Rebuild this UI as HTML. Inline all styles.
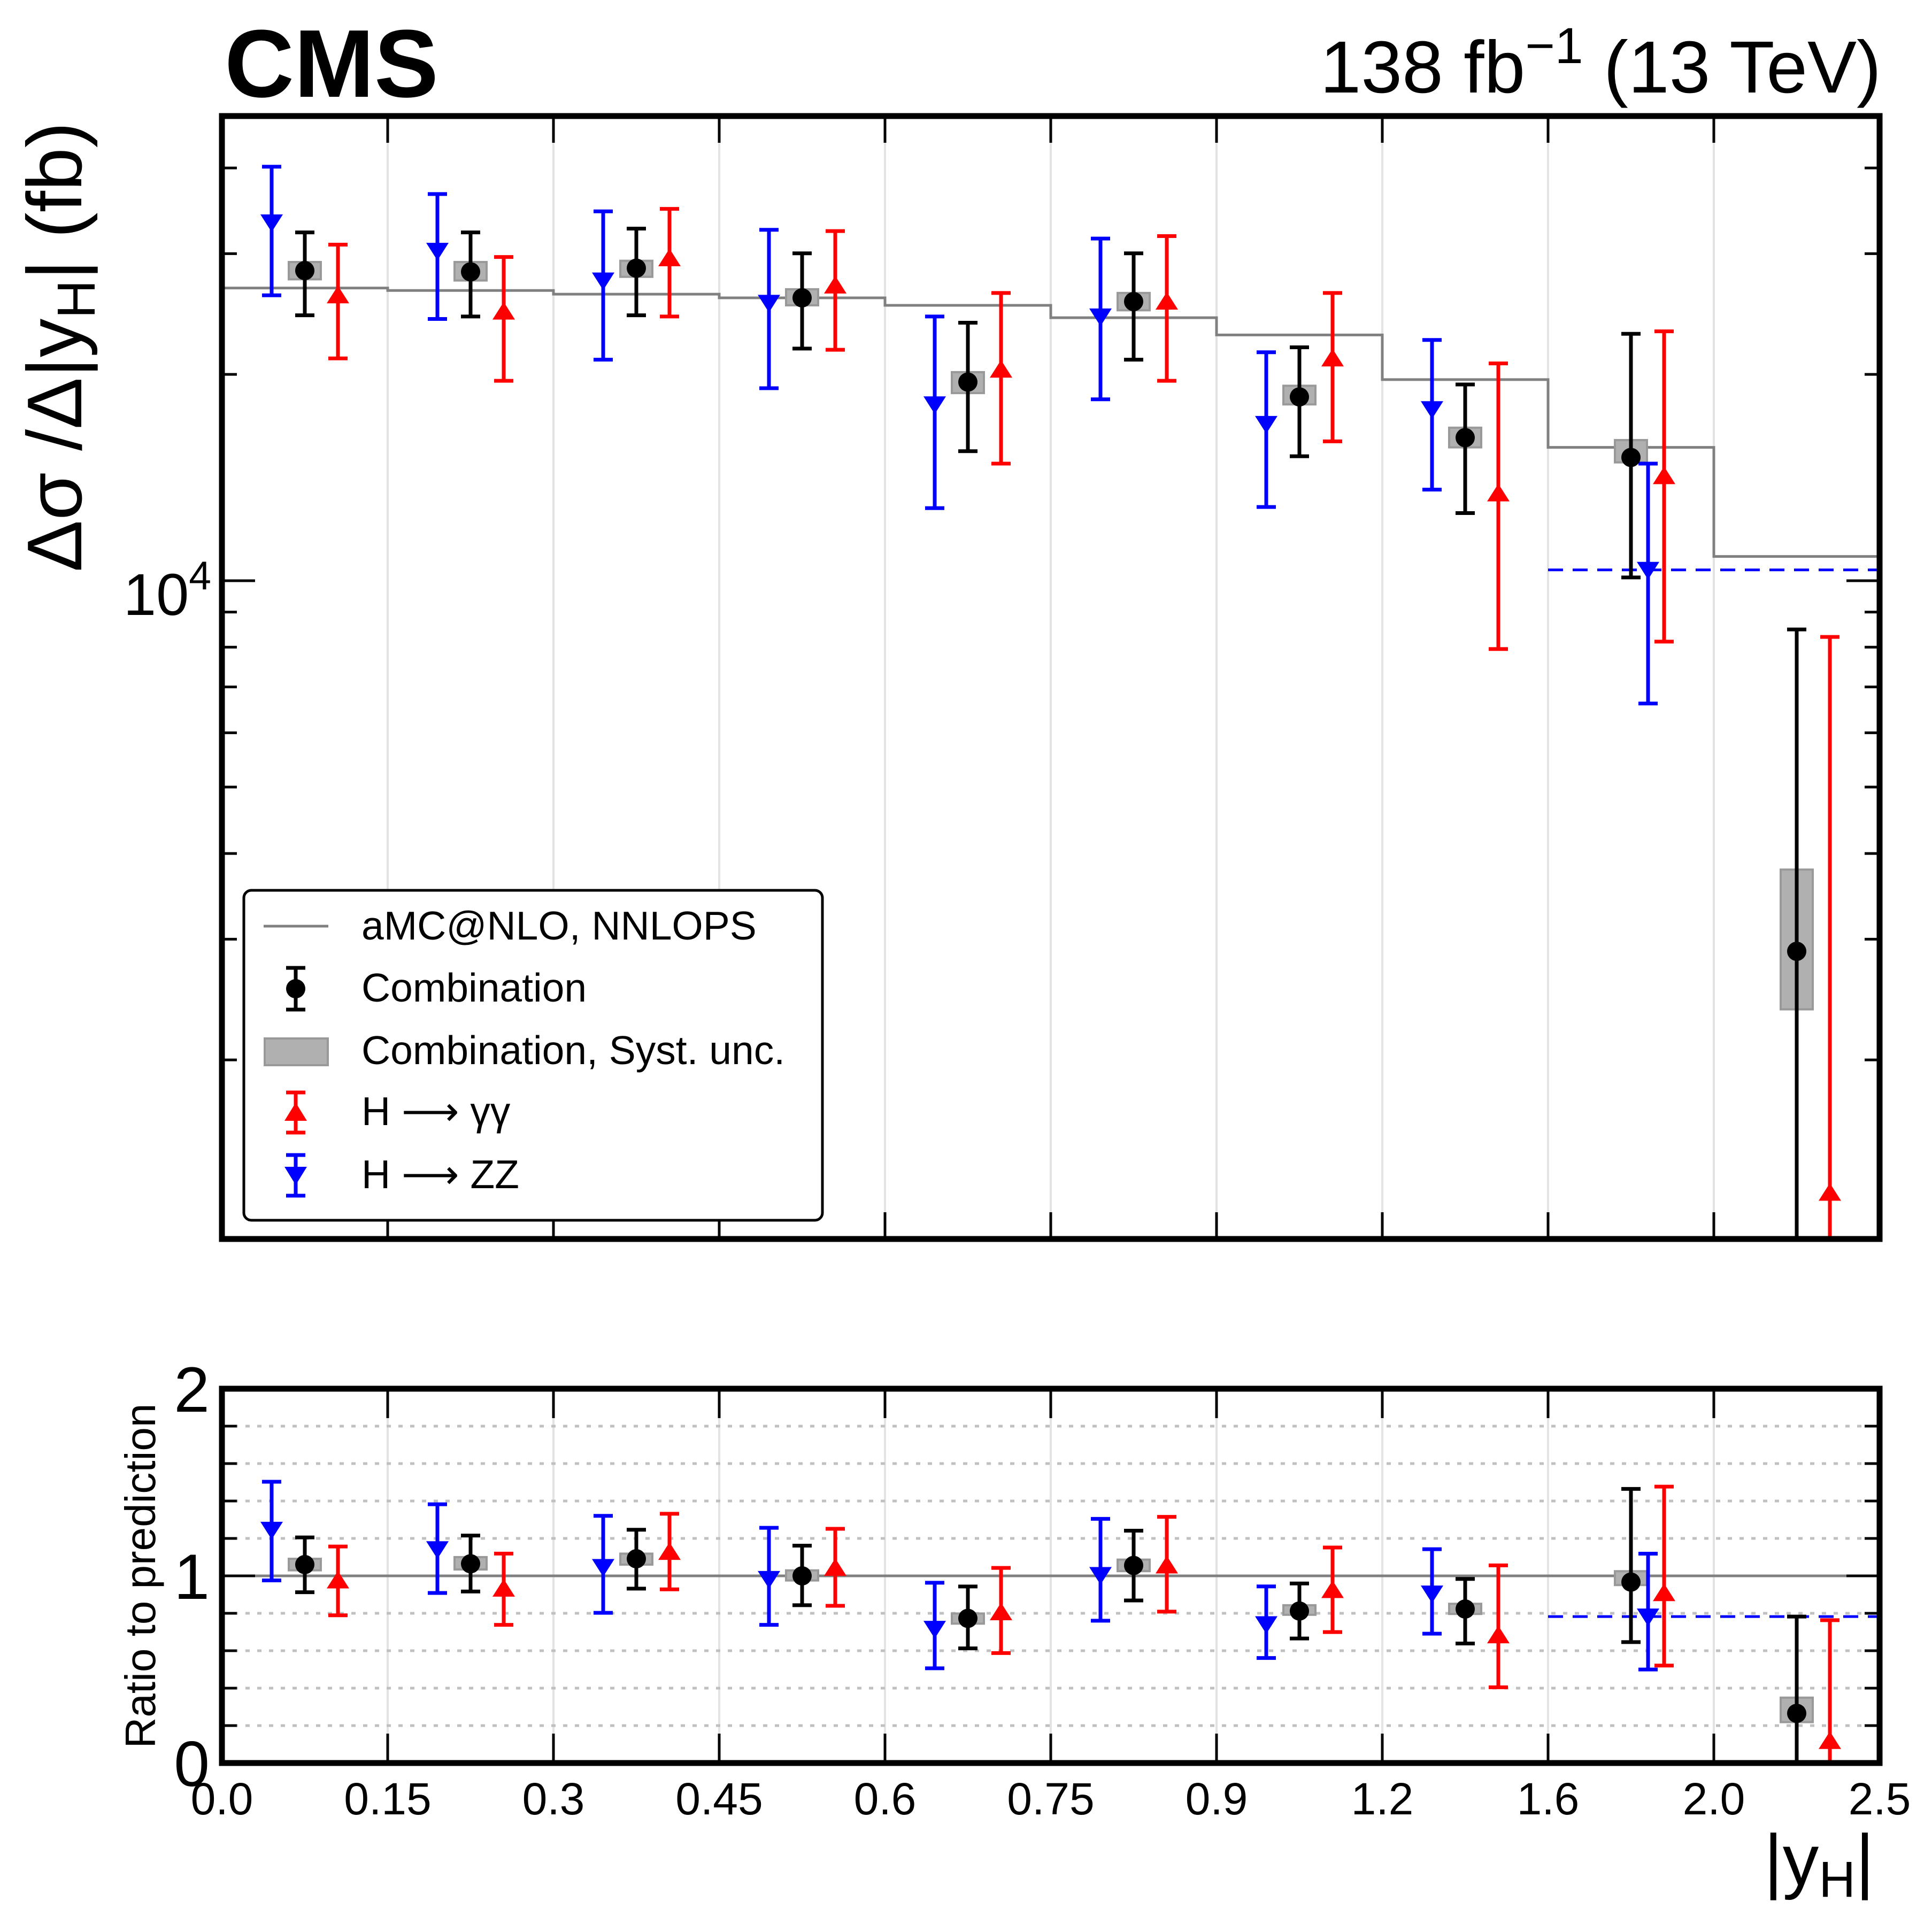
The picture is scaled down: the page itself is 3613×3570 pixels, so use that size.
<!DOCTYPE html>
<html><head><meta charset="utf-8">
<style>
html,body{margin:0;padding:0;background:#fff;width:3613px;height:3570px;overflow:hidden;}
svg{display:block;font-family:"Liberation Sans",Arial,sans-serif;}
</style></head>
<body>
<svg id="chart" width="3613" height="3570" viewBox="0 0 3613 3570" xmlns="http://www.w3.org/2000/svg">
<defs>
<clipPath id="clipMain"><rect x="415" y="217" width="3100" height="2100"/></clipPath>
<clipPath id="clipRatio"><rect x="415" y="2597" width="3100" height="700"/></clipPath>
</defs>
<g id="grid"></g>
<g id="main" clip-path="url(#clipMain)"></g>
<g id="ratio" clip-path="url(#clipRatio)"></g>
<g id="axes"></g>
<text x="420" y="181" font-size="180" font-weight="bold">CMS</text>
<text x="3518" y="173" font-size="138" text-anchor="end">138 fb<tspan dy="-55" font-size="95">−1</tspan><tspan dy="55"> (13 TeV)</tspan></text>
<text transform="translate(152,228) rotate(-90)" font-size="145" text-anchor="end">Δσ /Δ|y<tspan font-size="100" dy="25">H</tspan><tspan dy="-25">| (fb)</tspan></text>
<text transform="translate(290,2947) rotate(-90)" font-size="80" text-anchor="middle">Ratio to prediction</text>
<text x="3505" y="3525" font-size="135" text-anchor="end">|y<tspan font-size="95" dy="22">H</tspan><tspan dy="-22">|</tspan></text>
<g id="legend">
<rect x="456" y="1665" width="1082" height="617" rx="14" fill="#fff" stroke="#000" stroke-width="5"/>
<line x1="493" y1="1732" x2="614" y2="1732" stroke="#808080" stroke-width="5"/>
<text x="676" y="1757" font-size="75">aMC@NLO, NNLOPS</text>
<g stroke="#000" stroke-width="7">
<line x1="553" y1="1810" x2="553" y2="1888"/><line x1="535" y1="1810" x2="571" y2="1810"/><line x1="535" y1="1888" x2="571" y2="1888"/>
<circle cx="553" cy="1849" r="18" fill="#000" stroke="none"/></g>
<text x="676" y="1873" font-size="75">Combination</text>
<rect x="495" y="1942" width="118" height="50" fill="#b0b0b0" stroke="#999" stroke-width="4"/>
<text x="676" y="1990" font-size="75">Combination, Syst. unc.</text>
<g stroke="#f00" stroke-width="7">
<line x1="553" y1="2043" x2="553" y2="2118"/><line x1="535" y1="2043" x2="571" y2="2043"/><line x1="535" y1="2118" x2="571" y2="2118"/>
<polygon points="553,2062 574,2096 532,2096" fill="#f00" stroke="none"/></g>
<text x="676" y="2104" font-size="75">H  ⟶ γγ</text>
<g stroke="#00f" stroke-width="7">
<line x1="553" y1="2160" x2="553" y2="2236"/><line x1="535" y1="2160" x2="571" y2="2160"/><line x1="535" y1="2236" x2="571" y2="2236"/>
<polygon points="553,2216 574,2182 532,2182" fill="#00f" stroke="none"/></g>
<text x="676" y="2222" font-size="75">H  ⟶  ZZ</text>
</g>
</svg>
<script>
const binLabels = ["0.0","0.15","0.3","0.45","0.6","0.75","0.9","1.2","1.6","2.0","2.5"];
const pred = [26730, 26510, 26180, 25860, 25220, 24190, 22830, 19650, 15650, 10850];
const comb = [28340, 28220, 28570, 25860, 19490, 25540, 18540, 16170, 15130, 2880];
const combUp = [32220, 32220, 32630, 30030, 23790, 30030, 21900, 19330, 22920, 8490];
const combDn = [24390, 24290, 24390, 21810, 15450, 21010, 15190, 12550, 10110, 50];
const systUp = [29170, 29170, 29290, 26620, 20150, 26290, 19250, 16720, 16040, 3790];
const systDn = [27520, 27410, 27750, 25220, 18780, 24800, 18080, 15650, 14880, 2370];
const gg = [26080, 24700, 29540, 26960, 20320, 25540, 21100, 13410, 14210, 1280];
const ggUp = [30920, 29660, 34870, 32360, 26290, 31820, 26290, 20750, 23110, 8280];
const ggDn = [21100, 19570, 24290, 21720, 14820, 19570, 15970, 7950, 8150, 50];
const zz = [33310, 30280, 27410, 25430, 18080, 24290, 16930, 17790, 10370];
const zzUp = [40170, 36650, 34580, 32500, 24290, 31560, 21540, 22450, 14820];
const zzDn = [26080, 24090, 21010, 19090, 12760, 18390, 12810, 13580, 6620];
const zzMergedBins = [8, 9];
const ratioGrid = [0.2,0.4,0.6,0.8,1.2,1.4,1.6,1.8];
const mainMinorTicks = [2000,3000,4000,5000,6000,7000,8000,9000,20000,30000,40000];

const NS="http://www.w3.org/2000/svg";
const X0=415, X1=3515, BW=310;
const MT=217, MB=2317, RT=2597, RB=3297;
function xEdge(i){return X0+BW*i;}
function xc(i){return X0+BW*(i+0.5);}
function yM(v){return 1086-1282*Math.log10(v/1e4);}
function yR(r){return 2947-350*(r-1);}
function mk(parent,tag,attrs){const e=document.createElementNS(NS,tag);for(const k in attrs)e.setAttribute(k,attrs[k]);parent.appendChild(e);return e;}
const gGrid=document.getElementById('grid'), gMain=document.getElementById('main'), gRatio=document.getElementById('ratio'), gAx=document.getElementById('axes');

for(let i=1;i<binLabels.length-1;i++){
  [[MT,MB],[RT,RB]].forEach(function(r){
    const l=mk(gGrid,'line',{x1:xEdge(i),x2:xEdge(i),y1:r[0],y2:r[1],stroke:'#e3e3e3','stroke-width':4});
    
    
  });
}
ratioGrid.forEach(function(r){
  const l=mk(gGrid,'line',{x1:X0,x2:X1,y1:yR(r),y2:yR(r),stroke:'#c0c0c0','stroke-width':5,'stroke-dasharray':'8 14'});
  
  
});

let d='';
pred.forEach(function(v,i){d+=(i===0?'M':'L')+xEdge(i)+','+yM(v)+' L'+xEdge(i+1)+','+yM(v)+' ';});
const pl=mk(gMain,'path',{d:d,fill:'none',stroke:'#808080','stroke-width':5});


const rl=mk(gRatio,'line',{x1:X0,x2:X1,y1:yR(1),y2:yR(1),stroke:'#808080','stroke-width':5});



const zzIdx=zzMergedBins[0];
const zzPredMerged=(pred[zzMergedBins[0]]+pred[zzMergedBins[1]])/2;
const dm=mk(gMain,'line',{x1:xEdge(zzMergedBins[0]),x2:xEdge(zzMergedBins[1]+1),y1:yM(zz[zzIdx]),y2:yM(zz[zzIdx]),stroke:'#00f','stroke-width':5,'stroke-dasharray':'28 18'});


const dr=mk(gRatio,'line',{x1:xEdge(zzMergedBins[0]),x2:xEdge(zzMergedBins[1]+1),y1:yR(zz[zzIdx]/zzPredMerged),y2:yR(zz[zzIdx]/zzPredMerged),stroke:'#00f','stroke-width':5,'stroke-dasharray':'28 18'});



function errbar(g,x,yu,yd,col,name,top,bot){
  const grp=mk(g,'g',{stroke:col,'stroke-width':7});
  
  
  const cu=Math.max(yu,top), cd=Math.min(yd,bot);
  mk(grp,'line',{x1:x,x2:x,y1:cu,y2:cd});
  if(yu>=top) mk(grp,'line',{x1:x-18,x2:x+18,y1:yu,y2:yu});
  if(yd<=bot) mk(grp,'line',{x1:x-18,x2:x+18,y1:yd,y2:yd});
  return grp;
}
function tri(g,x,y,up,col,name){
  const p=up?[[x,y-18],[x+21,y+15],[x-21,y+15]]:[[x,y+18],[x+21,y-15],[x-21,y-15]];
  const t=mk(g,'polygon',{points:p.map(q=>q.join(',')).join(' '),fill:col});
  
  
}
function drawPanel(g,yf,isRatio,top,bot){
  for(let i=0;i<pred.length;i++){
    const den=isRatio?pred[i]:1;
    const b=mk(g,'rect',{x:xc(i)-30,y:yf(systUp[i]/den),width:60,height:yf(systDn[i]/den)-yf(systUp[i]/den),fill:'#b0b0b0',stroke:'#999','stroke-width':4});
    
    
    if(i<zz.length){
      const dz=isRatio?(i===zzIdx?zzPredMerged:pred[i]):1;
      const xb=(i===zzIdx)?xc(i)+32:xc(i)-62;
      errbar(g,xb,yf(zzUp[i]/dz),yf(zzDn[i]/dz),'#00f','hzz-errorbar-bin'+i,top,bot);
      tri(g,xb,yf(zz[i]/dz),false,'#00f','hzz-marker-bin'+i);
    }
    errbar(g,xc(i),yf(combUp[i]/den),yf(combDn[i]/den),'#000','combination-errorbar-bin'+i,top,bot);
    const c=mk(g,'circle',{cx:xc(i),cy:yf(comb[i]/den),r:18,fill:'#000'});
    
    
    const xr=xc(i)+62;
    errbar(g,xr,yf(ggUp[i]/den),yf(ggDn[i]/den),'#f00','hgg-errorbar-bin'+i,top,bot);
    tri(g,xr,yf(gg[i]/den),true,'#f00','hgg-marker-bin'+i);
  }
}
drawPanel(gMain,yM,false,MT,MB);
drawPanel(gRatio,yR,true,RT,RB);

function tick(x1,y1,x2,y2,name){
  const l=mk(gAx,'line',{x1:x1,y1:y1,x2:x2,y2:y2,stroke:'#000','stroke-width':5});
  
  
}
for(let i=1;i<binLabels.length-1;i++){
  const x=xEdge(i);
  tick(x,MT,x,MT+50,'x-tick'); tick(x,MB,x,MB-50,'x-tick');
  tick(x,RT,x,RT+55,'x-tick'); tick(x,RB,x,RB-55,'x-tick');
}
mainMinorTicks.forEach(function(v){
  const y=yM(v); tick(X0,y,X0+28,y,'y-minor-tick'); tick(X1,y,X1-28,y,'y-minor-tick');
});
tick(X0,yM(1e4),X0+62,yM(1e4),'y-major-tick'); tick(X1,yM(1e4),X1-62,yM(1e4),'y-major-tick');
ratioGrid.forEach(function(r){tick(X0,yR(r),X0+28,yR(r),'ratio-y-tick');tick(X1,yR(r),X1-28,yR(r),'ratio-y-tick');});
tick(X0,yR(1),X0+62,yR(1),'ratio-y-tick');tick(X1,yR(1),X1-62,yR(1),'ratio-y-tick');

[[MT,MB,'main-frame'],[RT,RB,'ratio-frame']].forEach(function(f){
  const r=mk(gAx,'rect',{x:X0,y:f[0],width:X1-X0,height:f[1]-f[0],fill:'none',stroke:'#000','stroke-width':11});
  
  
});
binLabels.forEach(function(s,i){
  const t=mk(gAx,'text',{x:xEdge(i),y:3393,'font-size':84,'text-anchor':'middle'});
  t.textContent=s;
  
  
});
[0,1,2].forEach(function(r){
  const t=mk(gAx,'text',{x:392,y:yR(r)+43,'font-size':120,'text-anchor':'end'});
  t.textContent=String(r);
  
  
});
const tl=mk(gAx,'text',{x:395,y:1150,'font-size':110,'text-anchor':'end'});


tl.innerHTML='10<tspan dy="-48" font-size="75">4</tspan>';
</script>
</body></html>
